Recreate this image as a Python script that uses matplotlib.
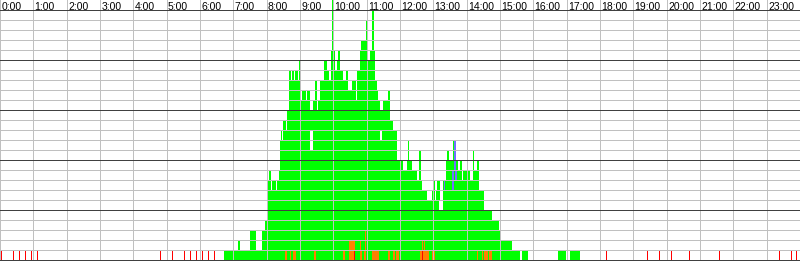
import matplotlib
matplotlib.use("Agg")
import matplotlib.pyplot as plt

# Busy-lane profile: minute of day where the count changes, and the new count
step_minutes = [403, 428, 432, 450, 461, 472, 477, 481, 482, 484, 488, 490, 497, 499,
                502, 504, 506, 508, 509, 515, 517, 520, 524, 526, 529, 531, 536, 538,
                542, 544, 551, 553, 558, 563, 567, 571, 572, 576, 583, 589, 592, 595,
                597, 600, 603, 607, 608, 612, 617, 623, 626, 634, 641, 643, 648, 650,
                659, 661, 666, 670, 673, 675, 679, 680, 684, 689, 698, 702, 707, 715,
                725, 733, 734, 736, 742, 751, 754, 758, 760, 769, 778, 779, 783, 785,
                787, 792, 797, 803, 805, 808, 815, 821, 824, 828, 832, 833, 846, 851,
                853, 859, 862, 871, 886, 898, 902, 922, 936, 940, 950, 1004, 1019,
                1021, 1022, 1026, 1044]
step_counts = [1, 2, 1, 3, 1, 3, 4, 7, 8, 9, 7, 8, 7, 8,
               9, 12, 13, 12, 14, 13, 15, 19, 18, 19, 18, 19, 18, 20,
               16, 17, 16, 17, 15, 16, 18, 15, 16, 18, 20, 19, 18, 21,
               26, 21, 19, 20, 21, 19, 18, 19, 17, 18, 16, 19, 21, 22,
               24, 20, 21, 25, 21, 18, 17, 16, 15, 16, 17, 14, 13, 10,
               9, 10, 12, 10, 9, 8, 11, 8, 7, 6, 7, 8, 6, 7,
               8, 6, 8, 10, 11, 10, 12, 10, 9, 10, 8, 9, 8, 11,
               9, 10, 7, 5, 4, 3, 2, 1, 0, 1, 0, 1, 0,
               1, 0, 1, 0]

# Coloured cells laid over the green: (start minute, end minute, lane)
orange_cells = [(513, 517, 1), (522, 524, 1), (527, 533, 1), (565, 569, 1),
                (617, 621, 1), (628, 639, 1), (648, 652, 1), (655, 659, 1),
                (670, 682, 1), (698, 702, 1), (707, 711, 1), (713, 718, 1),
                (756, 772, 1), (778, 783, 1), (859, 860, 1), (868, 869, 1),
                (871, 878, 1), (880, 886, 1),
                (628, 639, 2), (648, 650, 2), (657, 659, 2), (760, 761, 2),
                (763, 765, 2), (657, 659, 3)]
red_cells = [(637, 639, 1), (760, 761, 1)]
blue_cells = [(817, 821, 12), (817, 821, 11), (817, 821, 10), (814, 817, 9),
              (819, 823, 9), (814, 817, 8), (799, 801, 8)]
# Free slots inside a busy column
gap_cells = [(558, 563, 12), (558, 563, 13), (684, 688, 13), (790, 797, 6)]

# Single events outside the busy period
tick_minutes = [2, 23, 34, 45, 56, 67, 288, 310, 331, 342, 353, 364, 374, 385,
                1091, 1165, 1186, 1208, 1240, 1294, 1402, 1424, 1433]

hour_labels = [f"{h}:00" for h in range(24)]

N_ROWS = 25
PX = 0.72  # one pixel at 100 dpi, in points
GREEN = "#00ff00"
ORANGE = "#ff8000"
RED = "#ff0000"
BLUE = "#7070ff"
GRID = "#c0c0c0"
DARK = "#404040"

fig = plt.figure(figsize=(8, 2.61), dpi=100)
ax = fig.add_axes([0, 0, 1, 1])
ax.set_xlim(0, 24)
ax.set_ylim(0, 26.1)
ax.axis("off")

# Lane k occupies [k - 0.9, k + 0.1]
max_count = max(step_counts)
for lane in range(1, max_count + 1):
    spans = []
    for i, count in enumerate(step_counts[:-1]):
        if count >= lane:
            start = step_minutes[i] / 60
            end = step_minutes[i + 1] / 60
            spans.append((start, end - start))
    if spans:
        ax.broken_barh(spans, (lane - 0.9, 1.0), facecolors=GREEN,
                       antialiased=False, zorder=2)

for cells, color in [(orange_cells, ORANGE), (red_cells, RED),
                     (blue_cells, BLUE), (gap_cells, "white")]:
    for start, end, lane in cells:
        ax.broken_barh([(start / 60, (end - start) / 60)], (lane - 0.9, 1.0),
                       facecolors=color, antialiased=False, zorder=3)

ax.vlines([m / 60 for m in tick_minutes], 0.1, 1.0, colors=RED,
          linewidth=PX, antialiased=False, zorder=3)

# Grid on top of the bars
for n in range(N_ROWS + 1):
    color = DARK if n % 5 == 0 else GRID
    ax.axhline(n + 0.1, color=color, linewidth=PX, antialiased=False,
               zorder=5 if n % 5 == 0 else 4)
for h in range(24):
    ax.axvline(h, color=GRID, linewidth=PX, antialiased=False, zorder=4)

for h, label in enumerate(hour_labels):
    ax.text(h + 0.04, 25.15, label, fontsize=7.5, family="Liberation Sans",
            ha="left", va="baseline", color="black", zorder=6)

fig.savefig("out.png", dpi=100)
